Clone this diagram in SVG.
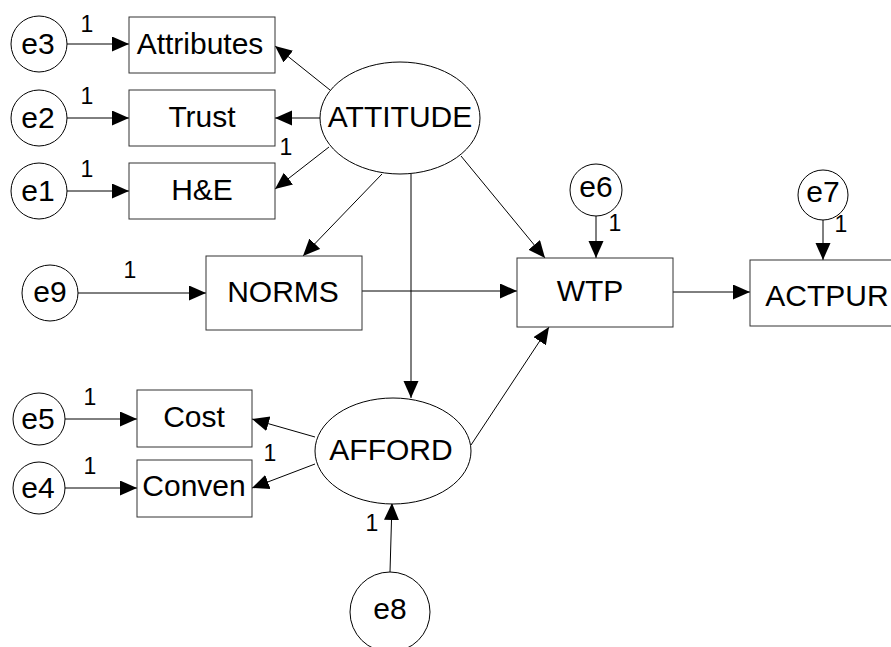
<svg xmlns="http://www.w3.org/2000/svg" width="891" height="647" viewBox="0 0 891 647">
<defs>
<marker id="ah" markerUnits="userSpaceOnUse" markerWidth="18" markerHeight="16" refX="17" refY="7.5" orient="auto">
<path d="M0,0 L17,7.5 L0,15 z" fill="#000"/>
</marker>
</defs>
<style>
.box{fill:#fff;stroke:#333;stroke-width:1}
.ell{fill:#fff;stroke:#000;stroke-width:1}
.lbl{font-family:"Liberation Sans",Arial,sans-serif;font-size:30px;fill:#000;text-anchor:middle}
.one{font-family:"Liberation Sans",Arial,sans-serif;font-size:23px;fill:#000;text-anchor:middle}
.edge{stroke:#000;stroke-width:1;fill:none;marker-end:url(#ah)}
</style>
<rect width="891" height="647" fill="#fff"/>
<g id="connectors">
<line class="edge" x1="67" y1="44" x2="129" y2="44"/>
<line class="edge" x1="67" y1="118" x2="129" y2="118"/>
<line class="edge" x1="67" y1="191" x2="129" y2="191"/>
<line class="edge" x1="330" y1="90" x2="275" y2="46"/>
<line class="edge" x1="320" y1="118" x2="275" y2="118"/>
<line class="edge" x1="329" y1="147" x2="275" y2="189"/>
<line class="edge" x1="382" y1="174" x2="303" y2="256"/>
<line class="edge" x1="411" y1="174" x2="411" y2="398"/>
<line class="edge" x1="461" y1="156" x2="545" y2="258"/>
<line class="edge" x1="78" y1="293" x2="206" y2="293"/>
<line class="edge" x1="362" y1="291" x2="517" y2="291"/>
<line class="edge" x1="596" y1="216" x2="596" y2="258"/>
<line class="edge" x1="673" y1="292" x2="750" y2="292"/>
<line class="edge" x1="823" y1="220" x2="823" y2="260"/>
<line class="edge" x1="471" y1="445" x2="549" y2="327"/>
<line class="edge" x1="315" y1="437" x2="252" y2="419"/>
<line class="edge" x1="315" y1="464" x2="252" y2="488"/>
<line class="edge" x1="65" y1="419" x2="137" y2="419"/>
<line class="edge" x1="64" y1="488" x2="137" y2="488"/>
<line class="edge" x1="390" y1="572" x2="392" y2="503"/>
<text class="one" x="87" y="32">1</text>
<text class="one" x="87" y="104">1</text>
<text class="one" x="87" y="177">1</text>
<text class="one" x="286" y="155">1</text>
<text class="one" x="130" y="278">1</text>
<text class="one" x="615" y="231">1</text>
<text class="one" x="841" y="232">1</text>
<text class="one" x="90" y="405">1</text>
<text class="one" x="90" y="474">1</text>
<text class="one" x="270" y="461">1</text>
<text class="one" x="372" y="531">1</text>
</g>
<g id="e3"><circle class="ell" cx="39" cy="44" r="28"/><text class="lbl" x="38" y="54">e3</text></g>
<g id="e2"><circle class="ell" cx="39" cy="118" r="28"/><text class="lbl" x="38" y="128">e2</text></g>
<g id="e1"><circle class="ell" cx="39" cy="191" r="28"/><text class="lbl" x="38" y="201">e1</text></g>
<g id="Attributes"><rect class="box" x="129" y="17" width="146" height="56"/><text class="lbl" x="200" y="54">Attributes</text></g>
<g id="Trust"><rect class="box" x="129" y="90" width="146" height="56"/><text class="lbl" x="202" y="127">Trust</text></g>
<g id="HE"><rect class="box" x="129" y="163" width="146" height="56"/><text class="lbl" x="202" y="200">H&amp;E</text></g>
<g id="ATTITUDE"><ellipse class="ell" cx="400" cy="118" rx="80" ry="56"/><text class="lbl" x="400" y="127">ATTITUDE</text></g>
<g id="e9"><circle class="ell" cx="50" cy="293" r="28"/><text class="lbl" x="50" y="302">e9</text></g>
<g id="NORMS"><rect class="box" x="206" y="256" width="156" height="74"/><text class="lbl" x="283" y="302">NORMS</text></g>
<g id="e6"><circle class="ell" cx="596" cy="190" r="26"/><text class="lbl" x="596" y="197">e6</text></g>
<g id="WTP"><rect class="box" x="517" y="258" width="156" height="69"/><text class="lbl" x="590" y="301">WTP</text></g>
<g id="e7"><circle class="ell" cx="823" cy="195" r="25"/><text class="lbl" x="823" y="202">e7</text></g>
<g id="ACTPUR"><rect class="box" x="750" y="260" width="156" height="66"/><text class="lbl" x="827" y="306">ACTPUR</text></g>
<g id="e5"><circle class="ell" cx="39" cy="419" r="26"/><text class="lbl" x="38" y="429">e5</text></g>
<g id="e4"><circle class="ell" cx="39" cy="488" r="26"/><text class="lbl" x="38" y="498">e4</text></g>
<g id="Cost"><rect class="box" x="137" y="390" width="115" height="57"/><text class="lbl" x="194" y="427">Cost</text></g>
<g id="Conven"><rect class="box" x="137" y="460" width="115" height="57"/><text class="lbl" x="194" y="496">Conven</text></g>
<g id="AFFORD"><ellipse class="ell" cx="393" cy="451" rx="78" ry="53"/><text class="lbl" x="391" y="460">AFFORD</text></g>
<g id="e8"><circle class="ell" cx="390" cy="612" r="40"/><text class="lbl" x="390" y="619">e8</text></g>
</svg>
